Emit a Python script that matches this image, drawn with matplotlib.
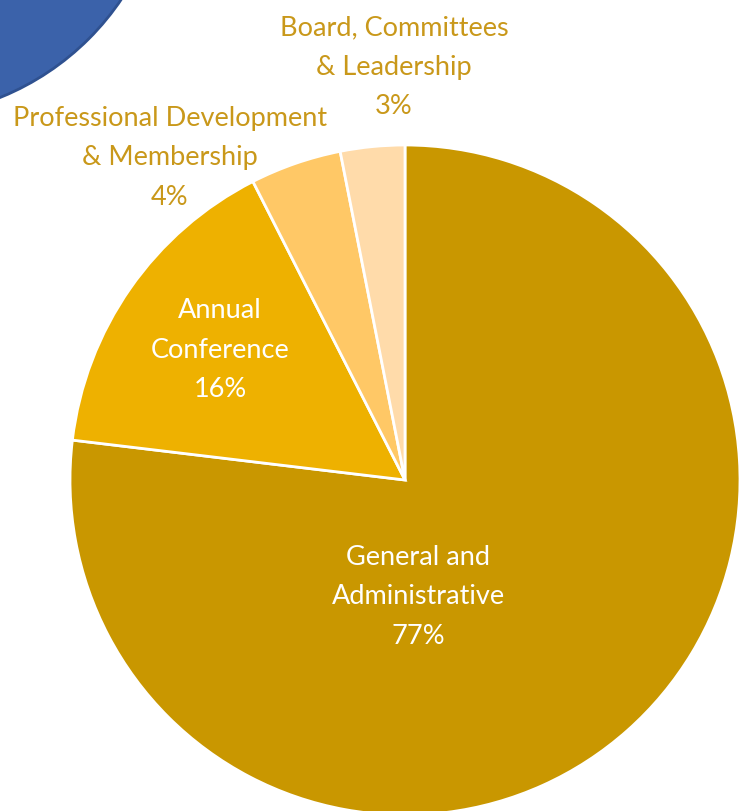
import matplotlib
matplotlib.use("Agg")
import matplotlib.pyplot as plt
from matplotlib.patches import Circle

categories = ["General and\nAdministrative", "Annual\nConference",
              "Professional Development\n& Membership", "Board, Committees\n& Leadership"]
values = [76.9, 15.6, 4.4, 3.1]
pct_labels = ["77%", "16%", "4%", "3%"]
colors = ["#C99700", "#EEB100", "#FFC866", "#FFDBAA"]
text_colors = ["white", "white", "#C9981A", "#C9981A"]

W, H = 740, 811
fig = plt.figure(figsize=(W / 100, H / 100), dpi=100)
ax = fig.add_axes([0, 0, 1, 1])

# decorative blue circle top-left
ax.add_patch(Circle((-100, H + 150), 267, facecolor="#3B62AA",
                    edgecolor="#2F5190", linewidth=2, zorder=1))

ax.pie(values, colors=colors, startangle=90, counterclock=False,
       center=(405, H - 480), radius=335,
       wedgeprops=dict(edgecolor="white", linewidth=2), frame=True)
ax.set_xlim(0, W)
ax.set_ylim(0, H)
ax.set_aspect("equal")
ax.axis("off")

label_pos = [(418, H - 597), (220, H - 350), (170, H - 158), (394, H - 67)]
for cat, pct, pos, tc in zip(categories, pct_labels, label_pos, text_colors):
    ax.text(pos[0], pos[1], cat + "\n" + pct, ha="center", va="center",
            fontsize=19.5, color=tc, family="Lato", linespacing=1.72, zorder=5)

fig.savefig("out.png", dpi=100)
